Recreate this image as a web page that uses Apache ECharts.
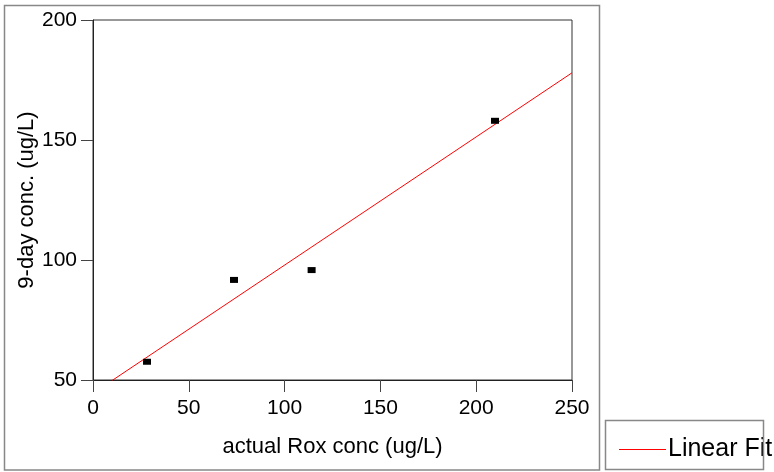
<!DOCTYPE html>
<html>
<head>
<meta charset="utf-8">
<script src="https://cdn.jsdelivr.net/npm/echarts@6/dist/echarts.min.js"></script>
<style>
  html, body { margin: 0; padding: 0; background: #fff; }
  #chart { width: 774px; height: 472px; }
</style>
</head>
<body>
<div id="chart"></div>
<script>
// Measured points (actual Rox conc, 9-day conc)
var xValues = [28.2, 73.6, 114.1, 209.8];
var yValues = [57.6, 91.7, 95.8, 158.0];
// Linear fit line endpoints
var fitX = [9.8, 250];
var fitY = [49.7, 178.0];
var xTicks = [0, 50, 100, 150, 200, 250];
var yTicks = [50, 100, 150, 200];
var xTitle = 'actual Rox conc (ug/L)';
var yTitle = '9-day conc. (ug/L)';
var legendName = 'Linear Fit';

var scatterData = xValues.map(function (x, i) { return [x, yValues[i]]; });
var fitData = fitX.map(function (x, i) { return [x, fitY[i]]; });

var FONT = 'Liberation Sans, Arial, sans-serif';
var chart = echarts.init(document.getElementById('chart'), null, { renderer: 'canvas' });
chart.setOption({
  animation: false,
  backgroundColor: '#fff',
  textStyle: { fontFamily: FONT, color: '#000' },
  grid: {
    left: 93, top: 20, right: 202, bottom: 92,
    show: true, borderColor: '#333', borderWidth: 1, backgroundColor: 'transparent'
  },
  xAxis: {
    type: 'value',
    min: xTicks[0], max: xTicks[xTicks.length - 1], interval: 50,
    name: xTitle, nameLocation: 'middle', nameGap: 56, nameMoveOverlap: false,
    nameTextStyle: { fontSize: 22, color: '#000', fontFamily: FONT },
    axisLine: { show: true, lineStyle: { color: '#222', width: 1 } },
    axisTick: { show: true, length: 12, inside: false, lineStyle: { color: '#444' } },
    axisLabel: { fontSize: 21, color: '#000', margin: 18, fontFamily: FONT },
    splitLine: { show: false }
  },
  yAxis: {
    type: 'value',
    min: yTicks[0], max: yTicks[yTicks.length - 1], interval: 50,
    name: yTitle, nameLocation: 'middle', nameGap: 55, nameRotate: 90, nameMoveOverlap: false,
    nameTextStyle: { fontSize: 22, color: '#000', fontFamily: FONT },
    axisLine: { show: true, lineStyle: { color: '#222', width: 1 } },
    axisTick: { show: true, length: 12, inside: false, lineStyle: { color: '#444' } },
    axisLabel: { fontSize: 21, color: '#000', margin: 16, fontFamily: FONT },
    splitLine: { show: false }
  },
  legend: {
    show: true,
    left: 619, top: 437, padding: 0,
    itemWidth: 44, itemHeight: 1,
    icon: 'rect',
    itemStyle: { color: 'rgba(0,0,0,0)', borderColor: 'rgba(0,0,0,0)', borderWidth: 0 },
    textStyle: { fontSize: 25, color: '#000', fontFamily: FONT },
    data: [{ name: legendName, itemStyle: { color: 'rgba(0,0,0,0)', borderColor: 'rgba(0,0,0,0)', borderWidth: 0 } }]
  },
  graphic: [
    { type: 'rect', shape: { x: 4.5, y: 5.5, width: 595, height: 464.5 },
      style: { fill: 'none', stroke: '#888', lineWidth: 1.5 }, silent: true },
    { type: 'rect', shape: { x: 605.5, y: 420.5, width: 158, height: 49 },
      style: { fill: 'none', stroke: '#888', lineWidth: 1.5 }, silent: true, z: 100 },
    { type: 'line', shape: { x1: 619, y1: 449.5, x2: 666, y2: 449.5 },
      style: { stroke: '#ff0000', lineWidth: 1 }, silent: true, z: 100 }
  ],
  series: [
    {
      name: 'data', type: 'scatter',
      symbol: 'rect', symbolSize: [8, 6],
      itemStyle: { color: '#000', opacity: 1 },
      data: scatterData, z: 3
    },
    {
      name: legendName, type: 'line',
      showSymbol: false, symbol: 'none',
      lineStyle: { color: '#ff0000', width: 1 },
      itemStyle: { color: '#ff0000' },
      data: fitData, z: 2, clip: true
    }
  ]
});
</script>
</body>
</html>
